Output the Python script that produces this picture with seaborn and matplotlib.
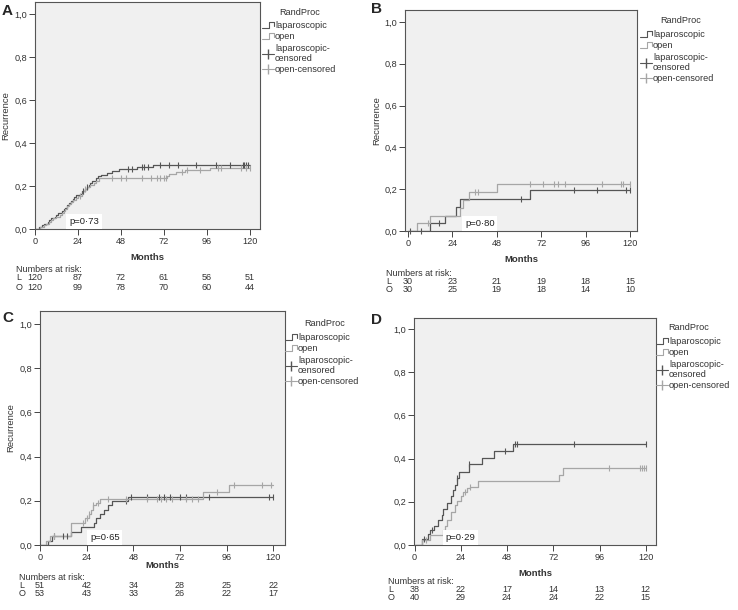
import numpy as np
import pandas as pd
import matplotlib
matplotlib.use("Agg")
import matplotlib.pyplot as plt
import seaborn as sns
from matplotlib.legend_handler import HandlerBase
from matplotlib.lines import Line2D

# ---------------- data ----------------
month_ticks = [0, 24, 48, 72, 96, 120]
y_ticks = [0.0, 0.2, 0.4, 0.6, 0.8, 1.0]
y_tick_labels = ["0,0", "0,2", "0,4", "0,6", "0,8", "1,0"]
groups = ["laparoscopic", "open"]
legend_title = "RandProc"
legend_labels = ["laparoscopic", "open", "laparoscopic-\ncensored", "open-censored"]

# Panel A
A_lap_t = [0, 2, 4, 5, 7, 8, 9, 11, 12, 13, 15, 16, 17, 18, 19, 20, 21, 22, 23, 25,
           26, 28, 29, 30, 31, 32, 34, 35, 37, 40, 43, 47, 57, 66]
A_lap_y = [0, .008, .017, .025, .033, .042, .05, .058, .067, .075, .083, .092, .10, .11, .12,
           .13, .14, .15, .16, .165, .175, .185, .195, .205, .215, .225, .235, .245, .252,
           .262, .271, .28, .287, .296]
A_open_t = [0, 3, 5, 6, 8, 9, 10, 12, 14, 15, 16, 17, 18, 19, 20, 21, 23, 24, 26, 27,
            28, 29, 31, 33, 34, 36, 74, 75, 79, 84, 98]
A_open_y = [0, .008, .017, .025, .033, .042, .05, .058, .067, .075, .085, .095, .105, .115,
            .125, .135, .145, .155, .165, .175, .185, .195, .205, .215, .225, .236, .245,
            .255, .265, .275, .285]
A_lap_cens = [27, 29, 52, 54, 60, 61, 63, 70, 75, 80, 90, 101, 109, 116, 117, 118, 119]
A_open_cens = [25, 28, 43, 48, 51, 60, 65, 68, 70, 72, 73, 82, 85, 92, 102, 104, 115, 118, 120]
A_risk_L = [120, 87, 72, 61, 56, 51]
A_risk_O = [120, 99, 78, 70, 60, 44]
A_p = "p=0·73"

# Panel B
B_lap_t = [0, 12, 20, 26, 28, 66]
B_lap_y = [0, .037, .074, .115, .155, .197]
B_open_t = [0, 5, 12, 28, 30, 33, 48]
B_open_y = [0, .037, .074, .111, .148, .185, .225]
B_lap_cens = [1, 7, 17, 61, 90, 102, 118, 120]
B_open_cens = [11, 36, 38, 66, 73, 79, 81, 85, 105, 115, 116, 120]
B_risk_L = [30, 23, 21, 19, 18, 15]
B_risk_O = [30, 25, 19, 18, 14, 10]
B_p = "p=0·80"

# Panel C
C_lap_t = [0, 4, 6, 16, 21, 28, 29, 31, 33, 35, 37, 45]
C_lap_y = [0, .02, .04, .06, .08, .10, .12, .14, .16, .18, .197, .217]
C_open_t = [0, 3, 5, 16, 23, 25, 26, 27, 29, 31, 84, 97]
C_open_y = [0, .02, .04, .10, .12, .14, .16, .18, .19, .206, .24, .272]
C_lap_cens = [7, 12, 14, 44, 47, 55, 61, 64, 67, 72, 75, 87, 118, 120]
C_open_cens = [7, 22, 24, 25, 27, 30, 35, 44, 55, 60, 62, 65, 68, 75, 78, 81, 91, 100, 114, 119]
C_risk_L = [51, 42, 34, 28, 25, 22]
C_risk_O = [53, 43, 33, 26, 22, 17]
C_p = "p=0·65"

# Panel D
D_lap_t = [0, 4, 7, 8, 10, 12, 14, 15, 17, 19, 20, 21, 22, 23, 28, 35, 41, 51]
D_lap_y = [0, .026, .05, .07, .09, .115, .14, .165, .195, .226, .254, .28, .31, .34,
           .374, .405, .434, .467]
D_open_t = [0, 4, 8, 15, 16, 17, 19, 21, 22, 24, 25, 27, 29, 33, 75, 77]
D_open_y = [0, .023, .046, .07, .09, .115, .154, .185, .205, .225, .245, .262, .27, .297,
            .325, .355]
D_lap_cens = [5, 9, 22, 28, 47, 52, 53, 83, 120]
D_open_cens = [6, 26, 29, 101, 117, 118, 119, 120]
D_risk_L = [38, 22, 17, 14, 13, 12]
D_risk_O = [40, 29, 24, 24, 22, 15]
D_p = "p=0·29"

# ---------------- layout (figure pixels) ----------------
W, H = 738, 610
layout = {
    "A": dict(box=(35, 260, 2, 229), xlim=(0, 125.7), ytop=1.056, letter=(2, 4),
              ylab=5, months=257, risk=(269, 278, 287), risk_x=16, px=19.0,
              leg=(262, 21), title=(300, 12.5), data=(A_lap_t, A_lap_y, A_open_t, A_open_y,
                                  A_lap_cens, A_open_cens, A_risk_L, A_risk_O, A_p)),
    "B": dict(box=(405, 637, 10, 231), xlim=(-1.6, 123.8), ytop=1.057, letter=(371, 2),
              ylab=376, months=259, risk=(273, 281, 289), risk_x=386, px=30.8,
              leg=(640, 30), title=(681, 20.5), data=(B_lap_t, B_lap_y, B_open_t, B_open_y,
                                   B_lap_cens, B_open_cens, B_risk_L, B_risk_O, B_p)),
    "C": dict(box=(40, 285, 311, 545), xlim=(0, 126.0), ytop=1.059, letter=(2, 311),
              ylab=10, months=566, risk=(577, 585, 594), risk_x=19, px=25.7,
              leg=(285, 333), title=(325, 323.5), data=(C_lap_t, C_lap_y, C_open_t, C_open_y,
                                    C_lap_cens, C_open_cens, C_risk_L, C_risk_O, C_p)),
    "D": dict(box=(414, 656, 318, 545), xlim=(-0.3, 125.3), ytop=1.051, letter=(371, 313),
              ylab=None, months=574, risk=(582, 590, 598), risk_x=388, px=16.1,
              leg=(656, 337), title=(689, 327.5), data=(D_lap_t, D_lap_y, D_open_t, D_open_y,
                                    D_lap_cens, D_open_cens, D_risk_L, D_risk_O, D_p)),
}

DARK = "#555555"
LIGHT = "#a6a6a6"
TXT = "#333333"

sns.set_style("ticks", {"axes.facecolor": "#f0f0f0", "axes.edgecolor": "#555555",
                        "xtick.color": "#444444", "ytick.color": "#444444"})
plt.rcParams["font.family"] = ["Liberation Sans", "DejaVu Sans"]
plt.rcParams["axes.linewidth"] = 0.8


class StepHandler(HandlerBase):
    def create_artists(self, legend, orig_handle, xdescent, ydescent, width, height,
                       fontsize, trans):
        x0, y0 = -xdescent, -ydescent
        xs = [x0, x0 + 0.6 * width, x0 + 0.6 * width, x0 + width, x0 + width]
        ys = [y0 + 0.05 * height, y0 + 0.05 * height, y0 + 1.0 * height,
              y0 + 1.0 * height, y0 + 0.3 * height]
        ln = Line2D(xs, ys, color=orig_handle.get_color(),
                    lw=orig_handle.get_linewidth(), transform=trans)
        return [ln]


def curve_frame(t, y):
    return pd.DataFrame({"Months": list(t) + [120], "Recurrence": list(y) + [y[-1]]})


def levels_at(t, y, times):
    idx = np.searchsorted(np.asarray(t), np.asarray(times), side="right") - 1
    return np.asarray(y)[idx]


fig = plt.figure(figsize=(W / 100, H / 100), dpi=100)

for key, L in layout.items():
    l, r, t, b = L["box"]
    ax = fig.add_axes([l / W, 1 - b / H, (r - l) / W, (b - t) / H])
    hpx = b - t
    lap_t, lap_y, op_t, op_y, lap_c, op_c, risk_L, risk_O, ptxt = L["data"]

    for tt, yy, cc, col in [(lap_t, lap_y, lap_c, DARK), (op_t, op_y, op_c, LIGHT)]:
        sns.lineplot(data=curve_frame(tt, yy), x="Months", y="Recurrence",
                     drawstyle="steps-post", color=col, lw=0.9, estimator=None,
                     sort=False, ax=ax)
        sns.scatterplot(x=cc, y=levels_at(tt, yy, cc), marker="|", s=22, color=col,
                        linewidth=0.8, ax=ax, zorder=3, clip_on=False)

    ax.set_xlim(*L["xlim"])
    ax.set_ylim(0, L["ytop"])
    ax.set_xticks(month_ticks)
    ax.set_xticklabels([str(m) for m in month_ticks])
    ax.set_yticks(y_ticks)
    ax.set_yticklabels(y_tick_labels)
    ax.tick_params(axis="both", labelsize=6.6, length=4, width=0.7, pad=1.5,
                   labelcolor=TXT)
    for s in ax.spines.values():
        s.set_visible(True)
        s.set_linewidth(0.8)

    ax.set_xlabel("Months", fontsize=6.8, fontweight="bold", color=TXT)
    ax.xaxis.label.set_va("center")
    ax.xaxis.set_label_coords(0.5, -(L["months"] - b) / hpx)
    if L["ylab"] is not None:
        ax.set_ylabel("Recurrence", fontsize=6.8, color=TXT)
        ax.yaxis.label.set_va("center")
        ax.yaxis.set_label_coords((L["ylab"] + 1 - l) / (r - l), 0.5)
    else:
        ax.set_ylabel("")

    # p value box
    ax.text(L["px"], 0.013, ptxt, fontsize=6.8, color="#222222", ha="left", va="bottom",
            bbox=dict(boxstyle="square,pad=0.3", facecolor="white", edgecolor="none"),
            zorder=4)

    # numbers at risk
    xt = ax.get_xaxis_transform()
    rx = (L["risk_x"] - l) / (r - l)
    ax.text(rx, -(L["risk"][0] - b) / hpx, "Numbers at risk:", transform=ax.transAxes,
            fontsize=6.5, ha="left", va="center", color=TXT)
    for row, lab, vals in [(1, "L", risk_L), (2, "O", risk_O)]:
        yy = -(L["risk"][row] - b) / hpx
        ax.text(rx, yy, lab, transform=ax.transAxes, fontsize=6.5, ha="left",
                va="center", color=TXT)
        for m, v in zip(month_ticks, vals):
            ax.text(m, yy, str(v), transform=xt, fontsize=6.5, ha="center",
                    va="center", color=TXT)

    # legend
    h_lap = Line2D([], [], color=DARK, lw=0.8)
    h_op = Line2D([], [], color=LIGHT, lw=0.8)
    h_lc = Line2D([], [], color=DARK, lw=0.8, marker="|", markersize=7.5)
    h_oc = Line2D([], [], color=LIGHT, lw=0.8, marker="|", markersize=7.5)
    lx, ly = L["leg"]
    leg = ax.legend([h_lap, h_op, h_lc, h_oc], legend_labels,
                    loc="upper left",
                    bbox_to_anchor=((lx - l) / (r - l), (b - ly) / hpx),
                    frameon=False, fontsize=6.6,
                    handlelength=1.3, handletextpad=0.12, labelspacing=0.25,
                    borderaxespad=0, borderpad=0,
                    handler_map={h_lap: StepHandler(), h_op: StepHandler()})
    for txt in leg.get_texts():
        txt.set_color(TXT)
    fig.text(L["title"][0] / W, 1 - L["title"][1] / H, legend_title, fontsize=6.6,
             ha="center", va="center", color=TXT)

    fig.text(L["letter"][0] / W, 1 - L["letter"][1] / H, key, fontsize=11,
             fontweight="bold", ha="left", va="top")

fig.savefig("out.png", dpi=100, facecolor="white")
